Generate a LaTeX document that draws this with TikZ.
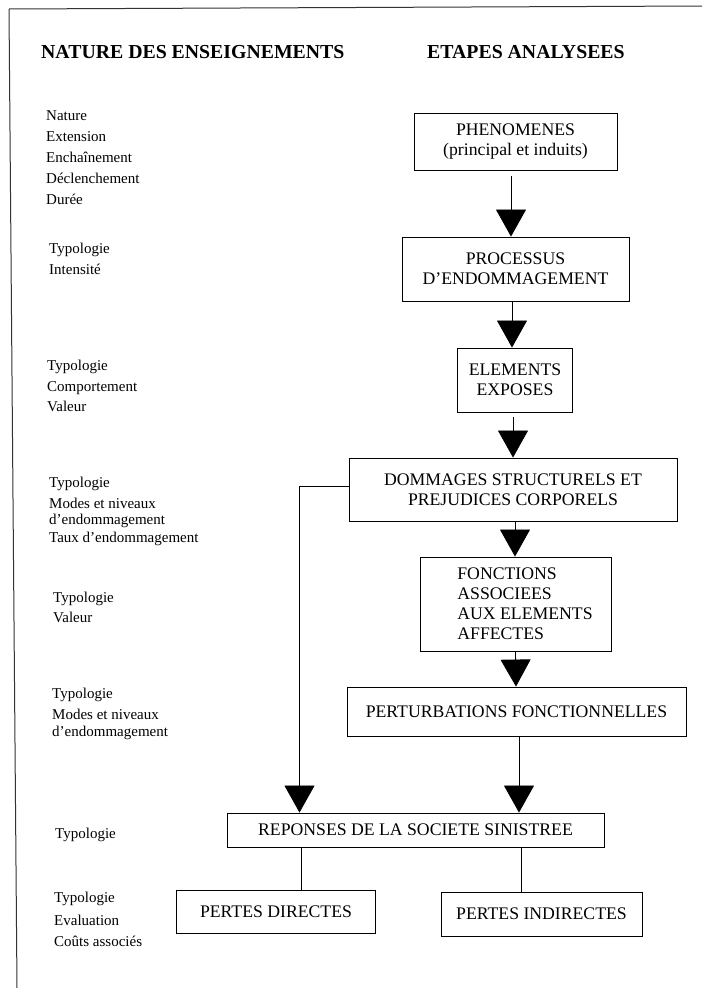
\documentclass[tikz,border=0pt]{standalone}
\usepackage{fontspec}
\setmainfont{Liberation Serif}
\usetikzlibrary{arrows.meta}
\begin{document}
\begin{tikzpicture}[x=1pt,y=-1pt,
  box/.style={draw,line width=0.9pt,inner sep=0pt,align=center,
    font=\fontsize{17.7}{20}\selectfont},
  lbl/.style={anchor=base west,inner sep=0pt,font=\fontsize{15}{16}\selectfont},
  ttl/.style={anchor=base west,inner sep=0pt,font=\fontsize{19.8}{22}\selectfont\bfseries},
  arr/.style={line width=0.8pt,-{Triangle[width=30pt,length=27pt]}},
  ln/.style={line width=0.8pt}]
\useasboundingbox (0,0) rectangle (704,988);
% frame
\draw[line width=1pt,black!80] (9,9) -- (702,6);
\draw[line width=1pt,black!80] (9,9) -- (17,988);

% titles
\node[ttl] (t1) at (41,58) {NATURE DES ENSEIGNEMENTS};
\node[ttl] (t2) at (427,58) {ETAPES ANALYSEES};

% boxes
\node[box,minimum width=203pt,minimum height=57pt] (phen) at (515.5,141.5) {PHENOMENES\\(principal et induits)};
\node[box,minimum width=227pt,minimum height=64pt] (proc) at (515.5,269) {PROCESSUS\\D'ENDOMMAGEMENT};
\node[box,minimum width=114.5pt,minimum height=64pt] (elem) at (515,380) {ELEMENTS\\EXPOSES};
\node[box,minimum width=328pt,minimum height=63pt] (domm) at (513,489.5) {DOMMAGES STRUCTURELS ET\\PREJUDICES CORPORELS};
\node[box,minimum width=191pt,minimum height=94pt,align=left] (fonc) at (515.5,604)
  {\hspace*{19pt}FONCTIONS\\\hspace*{19pt}ASSOCIEES\\\hspace*{19pt}AUX ELEMENTS\\\hspace*{19pt}AFFECTES};
\node[box,minimum width=339pt,minimum height=49pt] (pert) at (516.5,711.5) {PERTURBATIONS FONCTIONNELLES};
\node[box,minimum width=377pt,minimum height=34pt] (rep) at (415.5,830) {REPONSES DE LA SOCIETE SINISTREE};
\node[box,minimum width=198.5pt,minimum height=43pt] (pd) at (276,911.5) {PERTES DIRECTES};
\node[box,minimum width=201pt,minimum height=44pt] (pi) at (541.5,914) {PERTES INDIRECTES};

% connectors
\draw[arr,shorten <=6pt] ([xshift=-4.5pt]phen.south) -- ([xshift=-4.5pt]proc.north);
\draw[arr] ([xshift=-3.5pt]proc.south) -- ([xshift=-3pt]elem.north);
\draw[arr,shorten <=5pt] ([xshift=-2pt]elem.south) -- (domm.north);
\draw[arr] ([xshift=2pt]domm.south) -- ([xshift=-0.5pt]fonc.north);
\draw[arr] (fonc.south) -- ([xshift=-0.5pt]pert.north);
\draw[arr] ([yshift=3.5pt]domm.west) -| ([xshift=-116pt]rep.north);
\draw[arr] ([xshift=2.5pt]pert.south) -- ([xshift=103.5pt]rep.north);
\draw[ln] ([xshift=-114.5pt]rep.south) -- ([xshift=25pt]pd.north);
\draw[ln] ([xshift=105.5pt]rep.south) -- ([xshift=-20.5pt]pi.north);

% left labels
\node[lbl] (a1) at (46,120) {Nature};
\node[lbl] (a2) at (46,141) {Extension};
\node[lbl] (a3) at (46,162) {Enchaînement};
\node[lbl] (a4) at (46,183) {Déclenchement};
\node[lbl] (a5) at (46,204) {Durée};

\node[lbl] (b1) at (49,253) {Typologie};
\node[lbl] (b2) at (49,274) {Intensité};

\node[lbl] (c1) at (47,370) {Typologie};
\node[lbl] (c2) at (47,391) {Comportement};
\node[lbl] (c3) at (47,411) {Valeur};

\node[lbl] (d1) at (49,487) {Typologie};
\node[lbl] (d2) at (49,508) {Modes et niveaux};
\node[lbl] (d3) at (49,524) {d'endommagement};
\node[lbl] (d4) at (49,542) {Taux d'endommagement};

\node[lbl] (e1) at (53,602) {Typologie};
\node[lbl] (e2) at (53,622) {Valeur};

\node[lbl] (f1) at (52,698) {Typologie};
\node[lbl] (f2) at (52,719) {Modes et niveaux};
\node[lbl] (f3) at (52,736) {d'endommagement};

\node[lbl] (g1) at (55,838) {Typologie};

\node[lbl] (h1) at (54,902) {Typologie};
\node[lbl] (h2) at (54,925) {Evaluation};
\node[lbl] (h3) at (54,946) {Coûts associés};
\end{tikzpicture}
\end{document}
